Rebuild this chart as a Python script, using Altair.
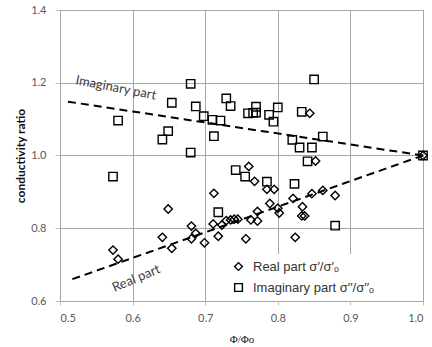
import altair as alt
import pandas as pd

# ---- data ----
real_x = [0.573, 0.580, 0.641, 0.649, 0.654, 0.681, 0.681, 0.687, 0.699, 0.712,
          0.711, 0.718, 0.723, 0.729, 0.735, 0.740, 0.745, 0.756, 0.763, 0.772,
          0.772, 0.760, 0.768, 0.785, 0.795, 0.789, 0.800, 0.802, 0.821, 0.834,
          0.833, 0.837, 0.824, 0.847, 0.862, 0.879, 0.844, 0.852, 1.000]
real_y = [0.740, 0.715, 0.775, 0.853, 0.745, 0.806, 0.771, 0.786, 0.760, 0.896,
          0.812, 0.778, 0.809, 0.821, 0.823, 0.825, 0.825, 0.771, 0.823, 0.846,
          0.820, 0.970, 0.929, 0.907, 0.907, 0.868, 0.855, 0.842, 0.882, 0.859,
          0.834, 0.834, 0.775, 0.895, 0.904, 0.890, 1.116, 0.985, 1.000]

imag_x = [0.573, 0.580, 0.641, 0.649, 0.654, 0.680, 0.680, 0.687, 0.698, 0.710,
          0.721, 0.712, 0.729, 0.735, 0.759, 0.766, 0.770, 0.770, 0.788, 0.794,
          0.800, 0.833, 0.850, 0.820, 0.830, 0.847, 0.862, 0.841, 0.742, 0.755,
          0.785, 0.823, 0.718, 0.879, 1.000]
imag_y = [0.942, 1.096, 1.044, 1.067, 1.145, 1.197, 1.008, 1.135, 1.108, 1.098,
          1.096, 1.053, 1.157, 1.136, 1.116, 1.117, 1.134, 1.118, 1.112, 1.093,
          1.132, 1.120, 1.209, 1.043, 1.022, 1.022, 1.052, 0.984, 0.960, 0.942,
          0.928, 0.922, 0.844, 0.807, 1.000]

series_names = ["Real part σ′/σ′ₒ", "Imaginary part σ′′/σ′′ₒ"]

trend_imag_x = [0.511, 1.0]
trend_imag_y = [1.148, 1.0]
trend_real_x = [0.517, 1.0]
trend_real_y = [0.660, 1.0]

label_imag = {"x": [0.577], "y": [1.186], "text": ["Imaginary part"]}
label_real = {"x": [0.605], "y": [0.662], "text": ["Real part"]}

x_ticks = [0.5, 0.6, 0.7, 0.8, 0.9, 1.0]
y_ticks = [0.6, 0.7, 0.8, 0.9, 1.0, 1.1, 1.2, 1.3, 1.4]

# ---- tables ----
pts = pd.concat([
    pd.DataFrame({"x": real_x, "y": real_y, "series": series_names[0]}),
    pd.DataFrame({"x": imag_x, "y": imag_y, "series": series_names[1]}),
], ignore_index=True)

trends = pd.concat([
    pd.DataFrame({"x": trend_imag_x, "y": trend_imag_y, "grp": "imag"}),
    pd.DataFrame({"x": trend_real_x, "y": trend_real_y, "grp": "real"}),
], ignore_index=True)

xscale = alt.Scale(domain=[0.5, 1.0], nice=False, zero=False)
yscale = alt.Scale(domain=[0.6, 1.4], nice=False, zero=False)

xaxis = alt.Axis(values=x_ticks, format=".1f", title="Φ/Φo",
                 titleFont="Liberation Serif", titleFontSize=11, titleFontWeight="normal",
                 titleColor="#222222", titlePadding=10,
                 labelFont="Lato", labelFontSize=11, labelColor="#595959", labelPadding=7,
                 tickSize=4, tickColor="#bfbfbf", gridColor="#a6a6a6", domain=False)
yaxis = alt.Axis(values=y_ticks, format=".1f", title="conductivity ratio",
                 titleFont="Lato", titleFontSize=12, titleFontWeight="bold",
                 titleColor="#111111", titlePadding=3,
                 labelFont="Lato", labelFontSize=11, labelColor="#595959", labelPadding=9,
                 tickSize=5, tickColor="#bfbfbf", gridColor="#a6a6a6", domain=False)

points = alt.Chart(pts).mark_point(filled=False, color="black", strokeWidth=1.4,
                                   size=70, opacity=1).encode(
    x=alt.X("x:Q", scale=xscale, axis=xaxis),
    y=alt.Y("y:Q", scale=yscale, axis=yaxis),
    shape=alt.Shape("series:N",
                    scale=alt.Scale(domain=series_names, range=["diamond", "square"]),
                    legend=alt.Legend(title=None, orient="none", legendX=166, legendY=244,
                                      fillColor="white", padding=6,
                                      labelFont="Liberation Sans", labelFontSize=13,
                                      labelColor="#333333", symbolSize=60,
                                      symbolStrokeWidth=1.4, symbolStrokeColor="black",
                                      symbolFillColor="transparent", symbolType="square",
                                      rowPadding=6, labelOffset=8)),
)

lines = alt.Chart(trends).mark_line(strokeDash=[8, 5], strokeWidth=2, color="black").encode(
    x=alt.X("x:Q", scale=xscale),
    y=alt.Y("y:Q", scale=yscale),
    detail="grp:N",
)

txt_imag = alt.Chart(pd.DataFrame(label_imag)).mark_text(
    angle=11, font="Lato", fontSize=13, color="#404040").encode(
    x=alt.X("x:Q", scale=xscale), y=alt.Y("y:Q", scale=yscale), text="text:N")

txt_real = alt.Chart(pd.DataFrame(label_real)).mark_text(
    angle=337, font="Lato", fontSize=13, color="#404040").encode(
    x=alt.X("x:Q", scale=xscale), y=alt.Y("y:Q", scale=yscale), text="text:N")

chart = alt.layer(lines, points, txt_imag, txt_real).properties(
    width=363, height=291,
    autosize=alt.AutoSizeParams(type="none"),
    padding={"left": 60, "top": 10, "right": 9, "bottom": 46},
    background="white",
).configure_view(stroke="#a6a6a6", strokeWidth=1)

chart.save("out.html", embed_options={"renderer": "svg", "actions": False})
